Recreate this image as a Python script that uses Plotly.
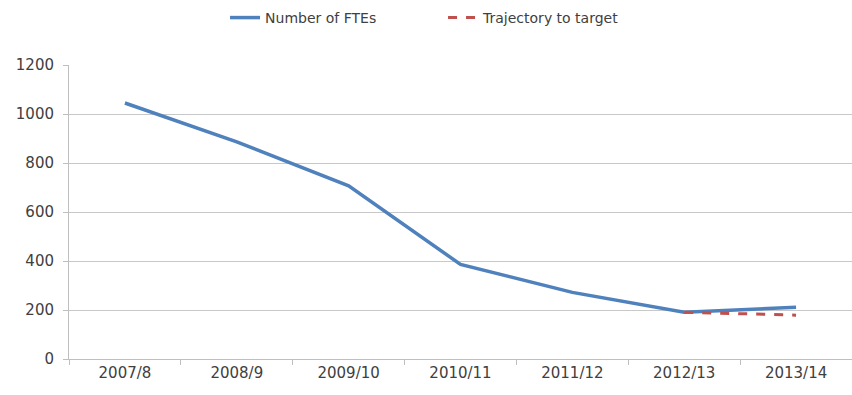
import plotly.graph_objects as go

years = ["2007/8", "2008/9", "2009/10", "2010/11", "2011/12", "2012/13", "2013/14"]
ftes = [1045, 886, 707, 386, 272, 191, 211]
traj_years = ["2012/13", "2013/14"]
traj = [191, 179]
yticks = [0, 200, 400, 600, 800, 1000, 1200]

fig = go.Figure()
fig.add_trace(go.Scatter(x=years, y=ftes, mode="lines", name="Number of FTEs",
                         line=dict(color="#4f81bd", width=3.5)))
fig.add_trace(go.Scatter(x=traj_years, y=traj, mode="lines", name="Trajectory to target",
                         line=dict(color="#c0504d", width=3, dash="dash")))

fig.update_layout(
    width=852, height=395,
    margin=dict(l=69, r=0, t=65, b=36),
    paper_bgcolor="white", plot_bgcolor="white",
    font=dict(family="DejaVu Sans, sans-serif", size=14, color="#404040"),
    legend=dict(orientation="h", x=0.52, xanchor="center", y=0.995, yanchor="top",
                xref="container", yref="container",
                font=dict(size=14, color="#404040"), entrywidth=173, entrywidthmode="pixels"),
    xaxis=dict(type="category", categoryorder="array", categoryarray=years,
               range=[-0.5, 6.5], showgrid=False, showline=True, linecolor="#bfbfbf",
               linewidth=1, ticks="outside", tickcolor="#bfbfbf", ticklen=5,
               tickson="boundaries", tickfont=dict(size=15, color="#404040")),
    yaxis=dict(range=[0, 1200], tickvals=yticks, showgrid=True, gridcolor="#c8c8c8",
               gridwidth=1, showline=True, linecolor="#bfbfbf", ticks="outside",
               tickcolor="#bfbfbf", ticklen=5, zeroline=False, ticklabelstandoff=6,
               tickfont=dict(size=15, color="#404040")),
)
fig.write_html("out.html")
